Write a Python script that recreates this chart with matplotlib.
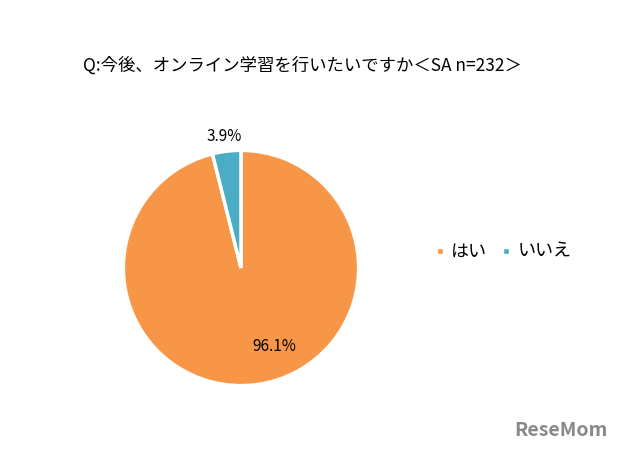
import matplotlib
matplotlib.use("Agg")
import matplotlib.pyplot as plt
from matplotlib.lines import Line2D

plt.rcParams['font.family'] = ['Noto Sans CJK JP', 'DejaVu Sans']

title = "Q:今後、オンライン学習を行いたいですか＜SA n=232＞"
labels = ["はい", "いいえ"]
values = [96.1, 3.9]
colors = ["#F79646", "#4BACC6"]

fig = plt.figure(figsize=(6.25, 4.53), dpi=100)

# pie axes: centre (241, 268) px, radius ~120 px
cx, cy, r = 241 / 625, 1 - 268 / 453, 120
ax = fig.add_axes([cx - r / 625, cy - r / 453, 2 * r / 625, 2 * r / 453])
wedges, _ = ax.pie(values, colors=colors, startangle=90, counterclock=False,
                   wedgeprops=dict(edgecolor="white", linewidth=2.5))
ax.set_xlim(-1.02, 1.02)
ax.set_ylim(-1.02, 1.02)
ax.set_aspect("equal")

ax.text(0.28, -0.67, f"{values[0]}%", ha="center", va="center", fontsize=11)
ax.text(-0.14, 1.12, f"{values[1]}%", ha="center", va="center", fontsize=11)

fig.text(302 / 625, 1 - 66 / 453, title, ha="center", va="center", fontsize=12.5)

handles = [Line2D([0], [0], marker="s", color="w", markerfacecolor=c,
                  markersize=5) for c in colors]
fig.legend(handles, labels, loc="center", bbox_to_anchor=(501 / 625, 1 - 252 / 453),
           ncol=2, frameon=False, fontsize=13, handletextpad=0.1,
           columnspacing=0.6, handlelength=1.0)

fig.text(561 / 625, 1 - 431 / 453, "ReseMom", ha="center", va="center",
         fontsize=14, fontweight="bold", color="#888888")

fig.savefig("out.png", dpi=100)
